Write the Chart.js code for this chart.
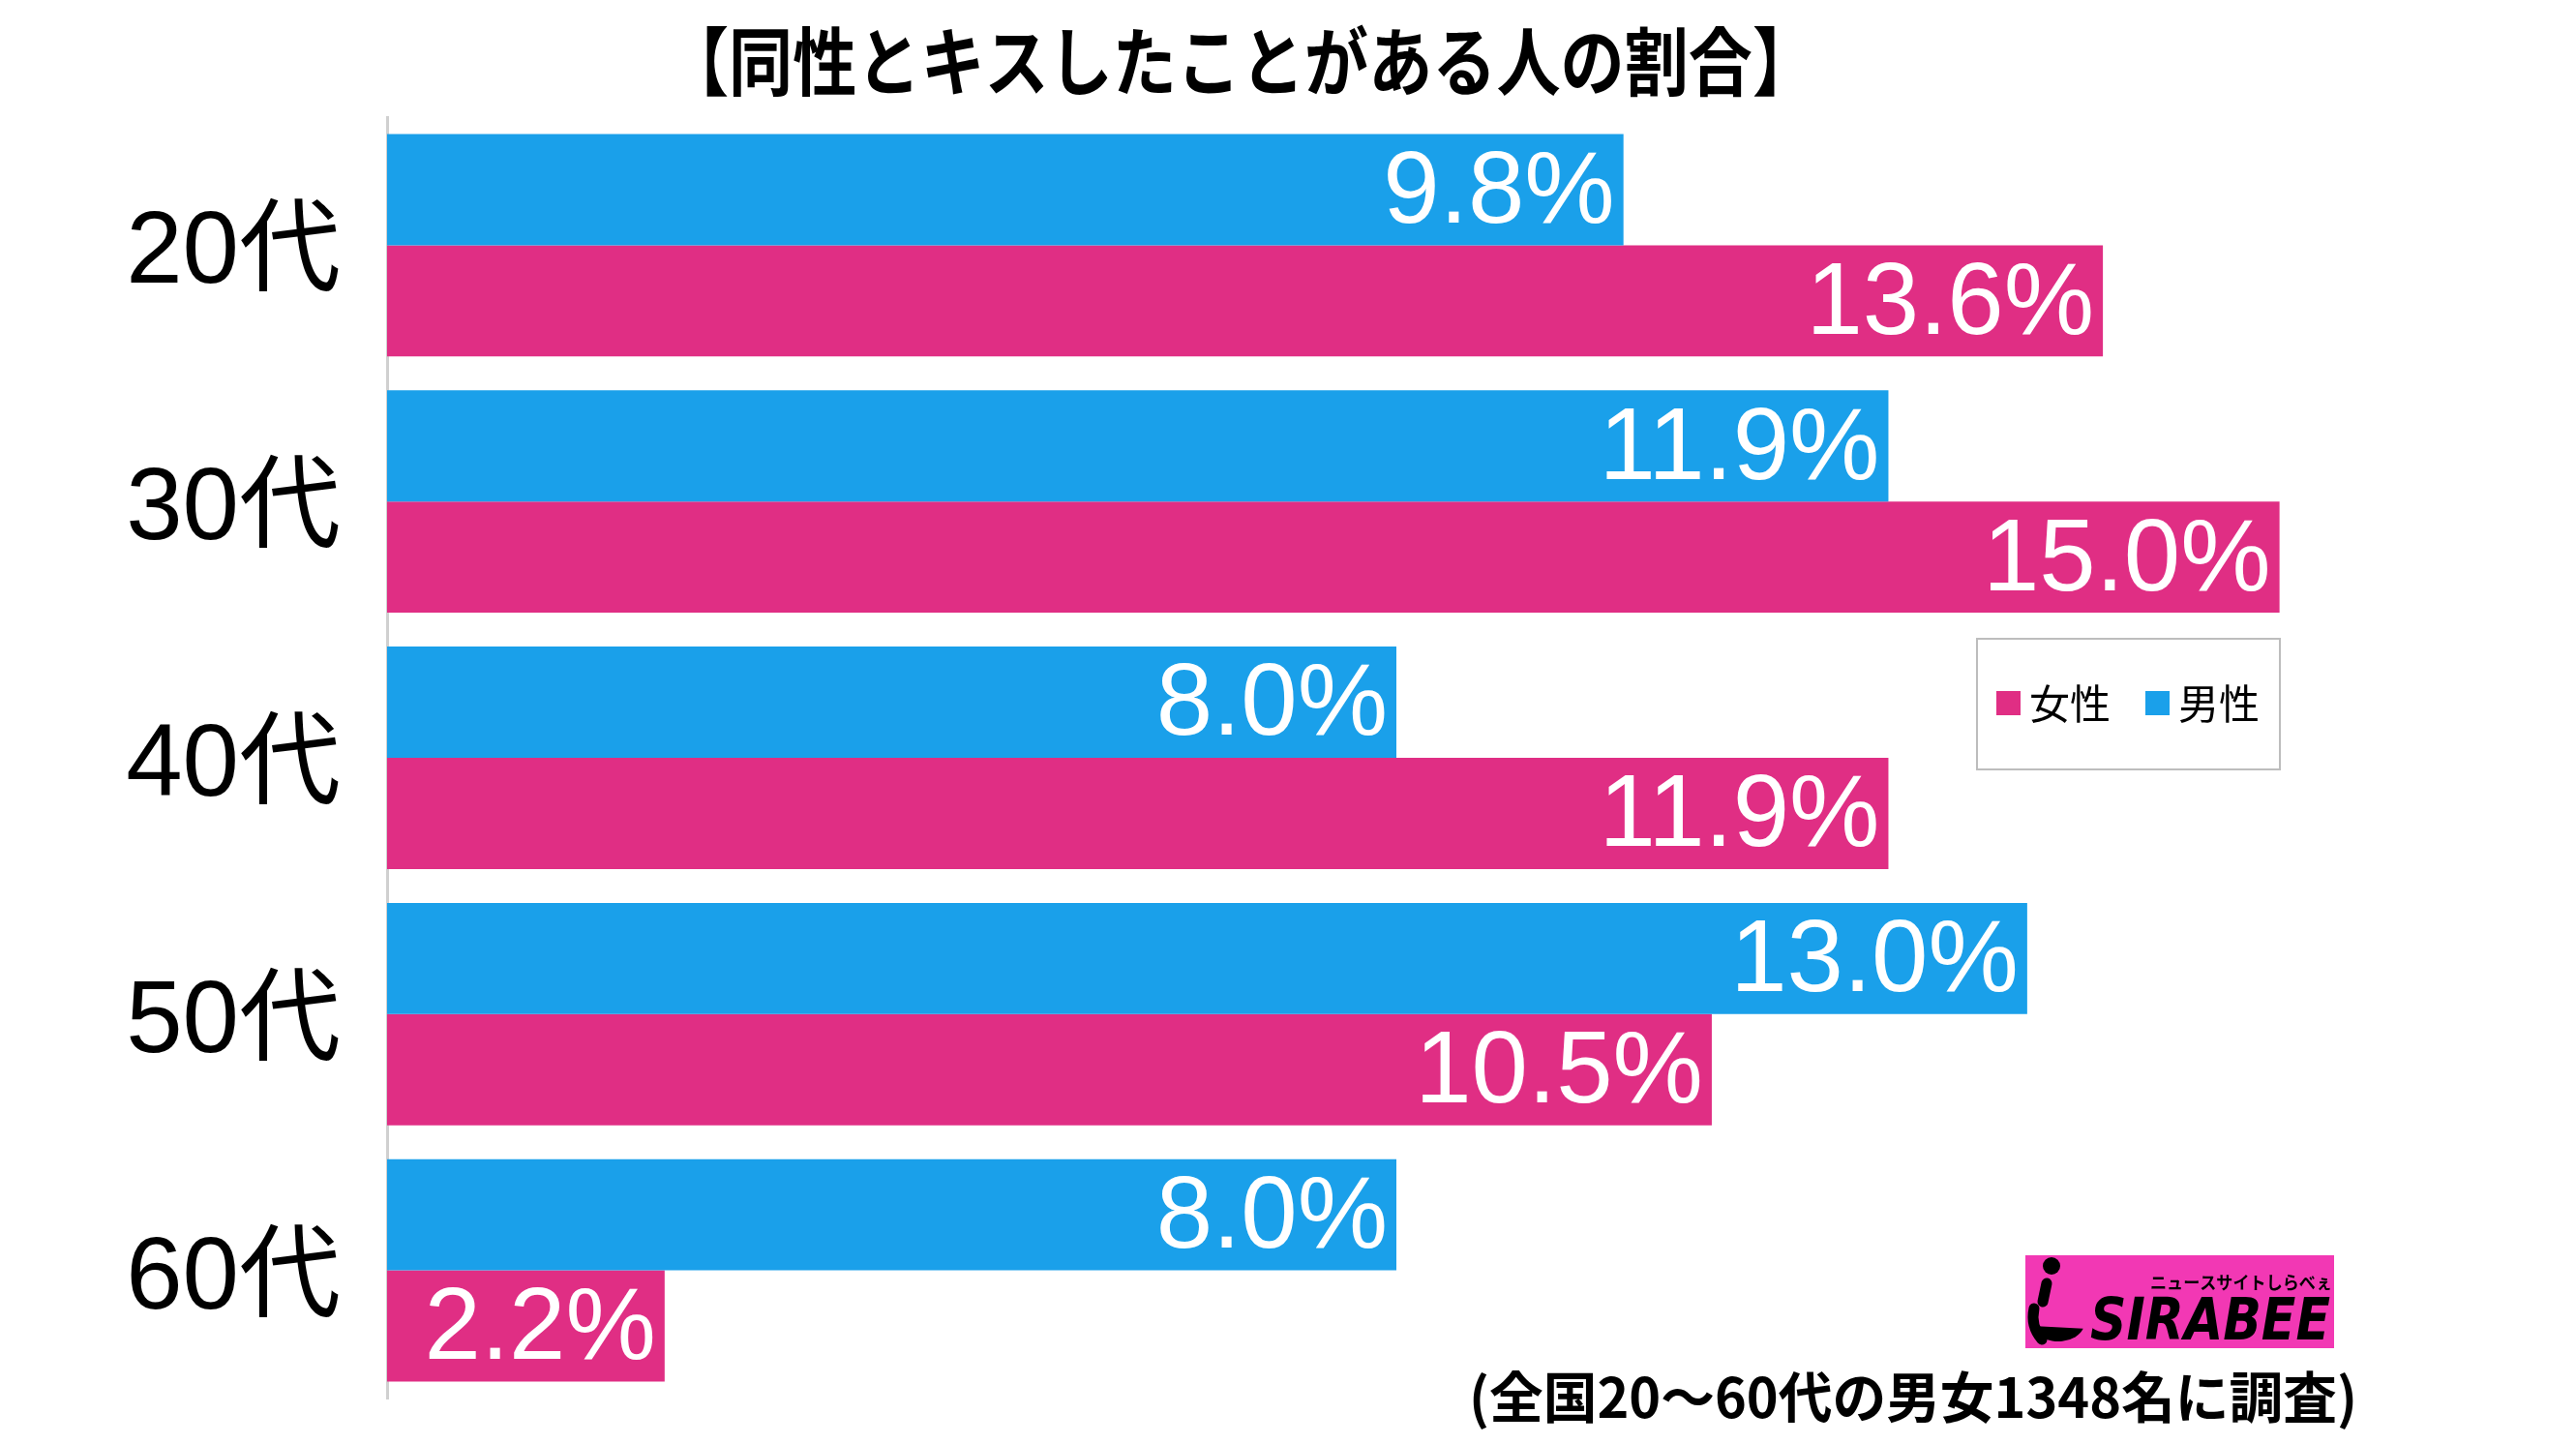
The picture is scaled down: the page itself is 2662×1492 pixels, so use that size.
<!DOCTYPE html>
<html>
<head>
<meta charset="utf-8">
<script src="https://cdn.jsdelivr.net/npm/chart.js@4/dist/chart.umd.min.js"></script>
<style>
html,body{margin:0;padding:0;background:#fff;}
canvas{display:block;}
</style>
</head>
<body>
<canvas id="c" width="2662" height="1492"></canvas>
<script>
const categories = ['20代', '30代', '40代', '50代', '60代'];
const maleValues = [9.8, 11.9, 8.0, 13.0, 8.0];
const femaleValues = [13.6, 15.0, 11.9, 10.5, 2.2];
const seriesNames = ['男性', '女性'];
const titleText = '【同性とキスしたことがある人の割合】';
const footnoteText = '(全国20〜60代の男女1348名に調査)';
const xMax = 16;

const BLUE = '#1aa0ea';
const PINK = '#e02e84';

const overlay = {
  id: 'overlay',
  afterDatasetsDraw(chart) {
    const ctx = chart.ctx;
    ctx.save();
    ctx.fillStyle = '#fff';
    ctx.font = '105px "Liberation Sans", Arial, sans-serif';
    ctx.textAlign = 'right';
    ctx.textBaseline = 'middle';
    chart.data.datasets.forEach((ds, di) => {
      const meta = chart.getDatasetMeta(di);
      meta.data.forEach((el, i) => {
        ctx.fillText(ds.data[i].toFixed(1) + '%', el.x - 9, el.y + 5);
      });
    });
    ctx.restore();
  },
  afterDraw(chart) {
    const ctx = chart.ctx;
    ctx.save();
    // title
    ctx.fillStyle = '#000';
    ctx.font = 'bold 77px "Noto Sans CJK JP", sans-serif';
    ctx.textAlign = 'center';
    ctx.textBaseline = 'middle';
    ctx.fillText(titleText, 1282, 64, 1190);

    // legend
    ctx.strokeStyle = '#bdbdbd';
    ctx.lineWidth = 2;
    ctx.strokeRect(2043, 660, 313, 135);
    const order = [1, 0];
    const xs = [2063, 2217];
    ctx.font = '42px "Noto Sans CJK JP", sans-serif';
    ctx.textAlign = 'left';
    order.forEach((di, k) => {
      const ds = chart.data.datasets[di];
      ctx.fillStyle = ds.backgroundColor;
      ctx.fillRect(xs[k], 714, 25, 25);
      ctx.fillStyle = '#000';
      ctx.fillText(ds.label, xs[k] + 34, 727);
    });

    // footnote
    ctx.font = 'bold 57px "Noto Sans CJK JP", sans-serif';
    ctx.textAlign = 'right';
    ctx.textBaseline = 'middle';
    ctx.fillStyle = '#000';
    ctx.fillText(footnoteText, 2436, 1443, 918);

    // logo
    ctx.fillStyle = '#f238b4';
    ctx.fillRect(2093, 1297, 319, 96);
    ctx.fillStyle = '#000';
    ctx.beginPath();
    ctx.arc(2120, 1308, 9, 0, Math.PI * 2);
    ctx.fill();
    ctx.lineWidth = 11;
    ctx.strokeStyle = '#000';
    ctx.lineCap = 'round';
    ctx.beginPath();
    ctx.moveTo(2115, 1326);
    ctx.lineTo(2111, 1345);
    ctx.stroke();
    ctx.beginPath();
    ctx.ellipse(2127, 1367, 27, 19, 0, Math.PI * 0.95, Math.PI * 2.1, true);
    ctx.fill();
    ctx.beginPath();
    ctx.moveTo(2102, 1352);
    ctx.quadraticCurveTo(2098, 1370, 2110, 1384);
    ctx.stroke();
    ctx.font = 'bold 18px "Noto Sans CJK JP", sans-serif';
    ctx.textAlign = 'left';
    ctx.textBaseline = 'middle';
    ctx.fillText('ニュースサイトしらべぇ', 2222, 1325, 188);
    ctx.font = 'italic bold 60px "DejaVu Sans Condensed", "DejaVu Sans", sans-serif';
    ctx.textBaseline = 'alphabetic';
    ctx.fillText('SIRABEE', 2160, 1384, 248);
    ctx.restore();
  }
};

new Chart(document.getElementById('c'), {
  type: 'bar',
  data: {
    labels: categories,
    datasets: [
      { label: seriesNames[0], data: maleValues, backgroundColor: BLUE, borderWidth: 0 },
      { label: seriesNames[1], data: femaleValues, backgroundColor: PINK, borderWidth: 0 }
    ]
  },
  options: {
    indexAxis: 'y',
    responsive: false,
    animation: false,
    devicePixelRatio: 1,
    layout: { padding: { top: 121, bottom: 47, left: 0, right: 176 } },
    datasets: { bar: { categoryPercentage: 0.868, barPercentage: 1.0 } },
    plugins: { legend: { display: false }, tooltip: { enabled: false }, title: { display: false } },
    scales: {
      x: { display: false, min: 0, max: xMax },
      y: {
        afterFit(scale) { scale.width = 400; scale.paddingTop = 0; scale.paddingBottom = 0; },
        grid: { display: true, drawOnChartArea: false, drawTicks: false },
        border: { display: true, color: '#d0d0d0', width: 3 },
        ticks: {
          padding: 48,
          labelOffset: 10,
          color: '#000',
          font: { size: 105, family: '"Liberation Sans", "Noto Sans CJK JP", sans-serif' }
        }
      }
    }
  },
  plugins: [overlay]
});
</script>
</body>
</html>
